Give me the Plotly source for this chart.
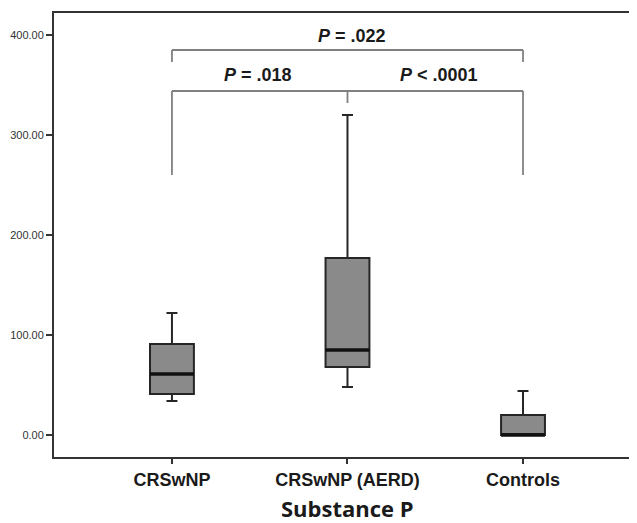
import plotly.graph_objects as go

categories = ["CRSwNP", "CRSwNP (AERD)", "Controls"]
lower_whisker = [34, 48, 0]
q1 = [41, 68, 0]
median = [61, 85, 0]
q3 = [91, 177, 20]
upper_whisker = [122, 320, 44]

y_ticks = [0, 100, 200, 300, 400]
p_labels = ["<i>P</i> = .022", "<i>P</i> = .018", "<i>P</i> < .0001"]

xpos = list(range(len(categories)))
BOX_W = 0.25

fig = go.Figure()
fig.add_trace(go.Box(
    x=xpos, q1=q1, median=median, q3=q3,
    lowerfence=lower_whisker, upperfence=upper_whisker,
    width=BOX_W, whiskerwidth=0.25,
    fillcolor="#8a8a8a", line=dict(color="#262626", width=2),
    boxpoints=False, showlegend=False, hoverinfo="skip"))

mx, my = [], []
for c, m in zip(xpos, median):
    mx += [c - BOX_W / 2, c + BOX_W / 2, None]
    my += [m, m, None]
fig.add_trace(go.Scatter(x=mx, y=my, mode="lines",
                         line=dict(color="#111111", width=3.4),
                         showlegend=False, hoverinfo="skip"))

gcol = "#808080"
gw = 1.8
def seg(x0, y0, x1, y1):
    fig.add_shape(type="line", xref="x", yref="y", x0=x0, y0=y0, x1=x1, y1=y1,
                  line=dict(color=gcol, width=gw))

# top bracket (CRSwNP vs Controls)
seg(0, 385, 2, 385)
seg(0, 385, 0, 373)
seg(2, 385, 2, 373)
# lower bracket
seg(0, 344, 2, 344)
seg(0, 344, 0, 260)
seg(2, 344, 2, 260)
seg(1, 344, 1, 332)

pfont = dict(family="Liberation Sans, Arial", size=18, color="#1a1a1a", weight="bold")
fig.add_annotation(x=1.026, y=399, text=p_labels[0], showarrow=False, font=pfont)
fig.add_annotation(x=0.49, y=360, text=p_labels[1], showarrow=False, font=pfont)
fig.add_annotation(x=1.52, y=360, text=p_labels[2], showarrow=False, font=pfont)

fig.add_annotation(x=1, xref="x", y=-0.1149, yref="paper", text="Substance P",
                   showarrow=False, yanchor="middle",
                   font=dict(family="Open Sans", size=22, color="#1a1a1a", weight="bold"))

fig.update_layout(
    width=637, height=523,
    margin=dict(l=46, r=0, t=5, b=74, autoexpand=False),
    paper_bgcolor="white", plot_bgcolor="white",
    xaxis=dict(range=[-0.672, 2.695], tickmode="array", tickvals=xpos, ticktext=categories,
               showline=True, linecolor="#333333", linewidth=2, mirror=True,
               ticks="outside", ticklen=5, tickcolor="#333333", tickwidth=1.5,
               showgrid=False, zeroline=False, automargin=False,
               tickfont=dict(family="Liberation Sans, Arial", size=18, color="#1a1a1a", weight="bold")),
    yaxis=dict(range=[-22, 422], tickmode="array", tickvals=y_ticks,
               ticktext=[f"{v:.2f}" for v in y_ticks],
               showline=True, linecolor="#333333", linewidth=2, mirror=False,
               ticks="outside", ticklen=6, tickcolor="#333333", tickwidth=1.5,
               showgrid=False, zeroline=False, automargin=False,
               tickfont=dict(family="Liberation Sans, Arial", size=11, color="#333333")),
)

fig.write_html("out.html")
